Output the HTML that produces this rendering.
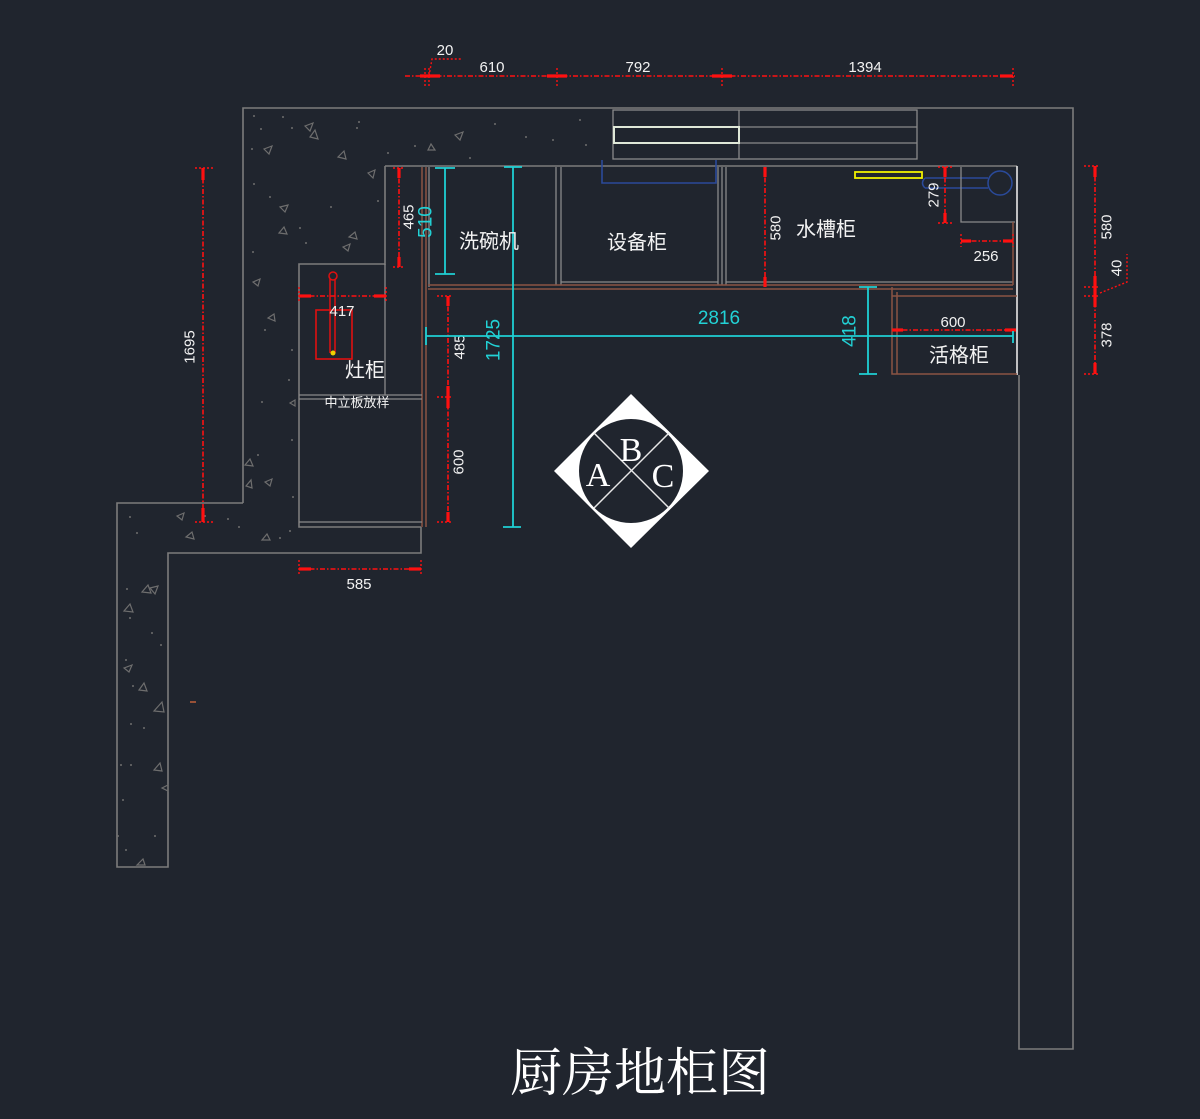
<!DOCTYPE html>
<html><head><meta charset="utf-8"><style>
html,body{margin:0;padding:0;background:#20252e;}
svg{display:block;}
.w{stroke:#7c7c7c;stroke-width:1.6;fill:none;}
.g{stroke:#8a8a8a;stroke-width:1.3;fill:none;}
.br{stroke:#8a5444;stroke-width:1.5;fill:none;}
.r{stroke:#ff1010;stroke-width:1.6;fill:none;stroke-dasharray:5 2 1.5 2;}
.rt{stroke:#ff1010;stroke-width:3.2;fill:none;}
.rk{stroke:#ff1010;stroke-width:1.4;fill:none;stroke-dasharray:2 2;}
.c{stroke:#1fd0d4;stroke-width:1.8;fill:none;}
.t{fill:#f2f2f2;font-family:"Liberation Sans","Noto Sans CJK SC",sans-serif;font-size:15px;}
.tc{fill:#22d2d6;font-family:"Liberation Sans",sans-serif;font-size:19px;}
.cn{fill:#f4f4f4;font-family:"Liberation Sans","Noto Sans CJK SC",sans-serif;font-size:20px;}
.h{stroke:#6e6e6e;stroke-width:1.2;fill:none;}
.d{fill:#6e6e6e;}
</style></head><body>
<svg width="1200" height="1119" viewBox="0 0 1200 1119" xmlns="http://www.w3.org/2000/svg">
<rect width="1200" height="1119" fill="#20252e"/>

<!-- walls -->
<polyline class="w" points="243,503 243,108 1073,108 1073,1049 1019,1049 1019,375"/>
<polyline class="w" points="243,503 117,503 117,867 168,867 168,553 421,553 421,527"/>
<polyline class="w" points="385,166 385,264 299,264 299,527 421,527"/>
<line class="w" x1="385" y1="166" x2="1017" y2="166"/>

<!-- hatch triangles -->
<g class="h">
<path d="M305,126 l8,-3 -3,8z"/><path d="M310,137 l5,-7 3,9z"/><path d="M264,149 l8,-3 -3,8z"/>
<path d="M338,157 l6,-6 2,8z"/><path d="M368,173 l7,-3 -2,8z"/><path d="M280,207 l8,-2 -3,7z"/>
<path d="M279,233 l5,-6 3,7z"/><path d="M349,237 l6,-5 2,7z"/><path d="M343,247 l7,-3 -2,7z"/>
<path d="M455,135 l8,-3 -3,8z"/><path d="M428,150 l3,-6 4,6z"/><path d="M253,282 l7,-3 -2,7z"/>
<path d="M268,318 l6,-4 1,7z"/><path d="M290,403 l5,-3 0,6z"/><path d="M245,465 l5,-6 3,7z"/>
<path d="M246,486 l5,-6 1,8z"/><path d="M265,482 l7,-3 -2,7z"/><path d="M177,516 l7,-3 -2,7z"/>
<path d="M186,537 l6,-5 2,7z"/><path d="M262,540 l5,-6 3,6z"/>
<path d="M142,592 l6,-7 3,8z"/><path d="M150,588 l8,-2 -3,8z"/><path d="M124,611 l6,-7 3,8z"/>
<path d="M124,668 l8,-3 -3,7z"/><path d="M139,690 l5,-7 3,8z"/><path d="M154,711 l8,-9 2,10z"/>
<path d="M154,770 l6,-7 2,8z"/><path d="M162,788 l6,-3 0,6z"/><path d="M137,865 l6,-6 2,6z"/>
</g>
<g class="d">
<circle cx="254" cy="116" r="1"/><circle cx="261" cy="129" r="1"/><circle cx="283" cy="117" r="1"/>
<circle cx="252" cy="149" r="1"/><circle cx="254" cy="184" r="1"/><circle cx="270" cy="197" r="1"/>
<circle cx="292" cy="128" r="1"/><circle cx="357" cy="128" r="1"/><circle cx="388" cy="153" r="1"/>
<circle cx="415" cy="146" r="1"/><circle cx="495" cy="124" r="1"/><circle cx="470" cy="158" r="1"/>
<circle cx="378" cy="201" r="1"/><circle cx="253" cy="252" r="1"/><circle cx="300" cy="228" r="1"/>
<circle cx="306" cy="243" r="1"/><circle cx="331" cy="207" r="1"/><circle cx="359" cy="122" r="1"/>
<circle cx="526" cy="137" r="1"/><circle cx="580" cy="120" r="1"/><circle cx="586" cy="145" r="1"/>
<circle cx="553" cy="140" r="1"/><circle cx="265" cy="330" r="1"/><circle cx="292" cy="350" r="1"/>
<circle cx="289" cy="380" r="1"/><circle cx="262" cy="402" r="1"/><circle cx="292" cy="440" r="1"/>
<circle cx="258" cy="455" r="1"/><circle cx="293" cy="497" r="1"/><circle cx="130" cy="517" r="1"/>
<circle cx="137" cy="533" r="1"/><circle cx="205" cy="516" r="1"/><circle cx="228" cy="519" r="1"/>
<circle cx="239" cy="527" r="1"/><circle cx="280" cy="538" r="1"/><circle cx="290" cy="531" r="1"/>
<circle cx="127" cy="589" r="1"/><circle cx="130" cy="618" r="1"/><circle cx="152" cy="633" r="1"/>
<circle cx="161" cy="645" r="1"/><circle cx="126" cy="660" r="1"/><circle cx="133" cy="686" r="1"/>
<circle cx="131" cy="724" r="1"/><circle cx="144" cy="728" r="1"/><circle cx="121" cy="765" r="1"/>
<circle cx="131" cy="765" r="1"/><circle cx="123" cy="800" r="1"/><circle cx="155" cy="836" r="1"/>
<circle cx="118" cy="836" r="1"/><circle cx="126" cy="850" r="1"/>
</g>
<line x1="190" y1="702" x2="196" y2="702" stroke="#c0603a" stroke-width="1.5"/>

<!-- upper strip -->
<rect class="g" x="613" y="110" width="304" height="49"/>
<line class="g" x1="613" y1="127" x2="917" y2="127"/>
<line class="g" x1="613" y1="143" x2="917" y2="143"/>
<line class="g" x1="739" y1="110" x2="739" y2="159"/>
<rect x="614" y="127" width="125" height="16" fill="none" stroke="#dfe8d8" stroke-width="2"/>

<!-- cabinets -->
<line class="br" x1="422" y1="167" x2="422" y2="527"/>
<line class="br" x1="426" y1="167" x2="426" y2="527"/>
<line class="g" x1="429" y1="167" x2="429" y2="287"/>
<line class="g" x1="556" y1="167" x2="556" y2="285"/>
<line class="g" x1="561" y1="167" x2="561" y2="285"/>
<line class="g" x1="718" y1="167" x2="718" y2="285"/>
<line class="g" x1="722" y1="167" x2="722" y2="285"/>
<line class="g" x1="726" y1="167" x2="726" y2="285"/>
<line class="br" x1="428" y1="285" x2="1013" y2="285"/>
<line class="br" x1="428" y1="289" x2="1013" y2="289"/>
<line class="g" x1="561" y1="282" x2="718" y2="282"/>
<line class="g" x1="726" y1="282" x2="1013" y2="282"/>
<!-- left stove cabinet -->
<line class="g" x1="299" y1="395" x2="422" y2="395"/>
<line class="g" x1="299" y1="399" x2="422" y2="399"/>
<line class="g" x1="385" y1="264" x2="385" y2="395"/>
<line class="g" x1="299" y1="522" x2="422" y2="522"/>
<!-- blue bracket -->
<polyline points="602,160 602,183 716,183 716,160" fill="none" stroke="#2a4a9a" stroke-width="1.6"/>
<!-- sink -->
<rect x="855" y="172" width="67" height="6" fill="none" stroke="#f0f000" stroke-width="1.8"/>
<path d="M925,178 L988,178 M925,188 L988,188 M925,178 q-5,5 0,10" fill="none" stroke="#2a4a9a" stroke-width="1.5"/>
<circle cx="1000" cy="183" r="12" fill="none" stroke="#2a4a9a" stroke-width="1.5"/>
<polyline class="g" points="961,167 961,222 1015,222"/>
<line class="br" x1="1013" y1="222" x2="1013" y2="285"/>
<line x1="1017" y1="166" x2="1017" y2="375" stroke="#e8e8e8" stroke-width="1.6"/>
<!-- 活格柜 -->
<polyline class="br" points="892,287 892,374 1017,374"/>
<line class="br" x1="897" y1="292" x2="897" y2="374"/>
<line class="br" x1="892" y1="296" x2="1017" y2="296"/>
<!-- stove -->
<rect x="316" y="310" width="36" height="49" fill="none" stroke="#e01010" stroke-width="1.6"/>
<line x1="330" y1="279" x2="330" y2="353" stroke="#e01010" stroke-width="1.5"/>
<line x1="335" y1="279" x2="335" y2="353" stroke="#e01010" stroke-width="1.5"/>
<circle cx="333" cy="276" r="4" fill="none" stroke="#e01010" stroke-width="1.5"/>
<circle cx="333" cy="353" r="2.5" fill="#f0d000"/>

<!-- red dims: top -->
<line class="r" x1="405" y1="76" x2="1015" y2="76"/>
<g class="rt"><line x1="420" y1="76" x2="440" y2="76"/><line x1="547" y1="76" x2="567" y2="76"/><line x1="712" y1="76" x2="732" y2="76"/><line x1="1000" y1="76" x2="1013" y2="76"/></g>
<g class="rk"><line x1="425" y1="68" x2="425" y2="88"/><line x1="429" y1="68" x2="429" y2="88"/><line x1="557" y1="68" x2="557" y2="88"/><line x1="722" y1="68" x2="722" y2="88"/><line x1="1013" y1="68" x2="1013" y2="88"/></g>
<polyline class="rk" points="429,76 432,59 462,59"/>
<text class="t" x="445" y="55" text-anchor="middle">20</text>
<text class="t" x="492" y="72" text-anchor="middle">610</text>
<text class="t" x="638" y="72" text-anchor="middle">792</text>
<text class="t" x="865" y="72" text-anchor="middle">1394</text>

<!-- 1695 -->
<line class="r" x1="203" y1="168" x2="203" y2="522"/>
<g class="rt"><line x1="203" y1="168" x2="203" y2="180"/><line x1="203" y1="508" x2="203" y2="522"/></g>
<g class="rk"><line x1="195" y1="168" x2="213" y2="168"/><line x1="195" y1="522" x2="213" y2="522"/></g>
<text class="t" transform="translate(190,347) rotate(-90)" text-anchor="middle" dominant-baseline="central">1695</text>

<!-- 465 -->
<line class="r" x1="399" y1="168" x2="399" y2="267"/>
<g class="rt"><line x1="399" y1="168" x2="399" y2="178"/><line x1="399" y1="257" x2="399" y2="267"/></g>
<g class="rk"><line x1="393" y1="168" x2="405" y2="168"/><line x1="393" y1="267" x2="405" y2="267"/></g>
<text class="t" transform="translate(409,217) rotate(-90)" text-anchor="middle" dominant-baseline="central">465</text>

<!-- 417 -->
<line class="r" x1="299" y1="296" x2="386" y2="296"/>
<g class="rt"><line x1="299" y1="296" x2="311" y2="296"/><line x1="374" y1="296" x2="386" y2="296"/></g>
<g class="rk"><line x1="299" y1="287" x2="299" y2="302"/><line x1="386" y1="287" x2="386" y2="302"/></g>
<text class="t" x="342" y="316" text-anchor="middle">417</text>

<!-- 585 -->
<line class="r" x1="299" y1="569" x2="421" y2="569"/>
<g class="rt"><line x1="299" y1="569" x2="311" y2="569"/><line x1="409" y1="569" x2="421" y2="569"/></g>
<g class="rk"><line x1="299" y1="560" x2="299" y2="574"/><line x1="421" y1="560" x2="421" y2="574"/></g>
<text class="t" x="359" y="589" text-anchor="middle">585</text>

<!-- 485 / 600 -->
<line class="r" x1="448" y1="296" x2="448" y2="522"/>
<g class="rt"><line x1="448" y1="296" x2="448" y2="306"/><line x1="448" y1="386" x2="448" y2="408"/><line x1="448" y1="512" x2="448" y2="522"/></g>
<g class="rk"><line x1="437" y1="296" x2="452" y2="296"/><line x1="437" y1="397" x2="452" y2="397"/><line x1="437" y1="522" x2="452" y2="522"/></g>
<text class="t" transform="translate(460,347) rotate(-90)" text-anchor="middle" dominant-baseline="central">485</text>
<text class="t" transform="translate(459,462) rotate(-90)" text-anchor="middle" dominant-baseline="central">600</text>

<!-- 580 sink -->
<line class="r" x1="765" y1="167" x2="765" y2="287"/>
<g class="rt"><line x1="765" y1="167" x2="765" y2="177"/><line x1="765" y1="277" x2="765" y2="287"/></g>
<text class="t" transform="translate(776,228) rotate(-90)" text-anchor="middle" dominant-baseline="central">580</text>

<!-- 279 -->
<line class="r" x1="945" y1="167" x2="945" y2="223"/>
<g class="rt"><line x1="945" y1="167" x2="945" y2="177"/><line x1="945" y1="213" x2="945" y2="223"/></g>
<g class="rk"><line x1="938" y1="167" x2="952" y2="167"/><line x1="938" y1="223" x2="952" y2="223"/></g>
<text class="t" transform="translate(934,195) rotate(-90)" text-anchor="middle" dominant-baseline="central">279</text>

<!-- 256 -->
<line class="r" x1="961" y1="241" x2="1013" y2="241"/>
<g class="rt"><line x1="961" y1="241" x2="971" y2="241"/><line x1="1003" y1="241" x2="1013" y2="241"/></g>
<g class="rk"><line x1="961" y1="234" x2="961" y2="247"/><line x1="1013" y1="234" x2="1013" y2="247"/></g>
<text class="t" x="986" y="261" text-anchor="middle">256</text>

<!-- 600 活格 -->
<line class="r" x1="892" y1="330" x2="1016" y2="330"/>
<g class="rt"><line x1="892" y1="330" x2="903" y2="330"/><line x1="1005" y1="330" x2="1016" y2="330"/></g>
<text class="t" x="953" y="327" text-anchor="middle">600</text>

<!-- right 580/40/378 -->
<line class="r" x1="1095" y1="166" x2="1095" y2="374"/>
<g class="rt"><line x1="1095" y1="166" x2="1095" y2="177"/><line x1="1095" y1="276" x2="1095" y2="307"/><line x1="1095" y1="363" x2="1095" y2="374"/></g>
<g class="rk"><line x1="1084" y1="166" x2="1099" y2="166"/><line x1="1084" y1="287" x2="1099" y2="287"/><line x1="1084" y1="296" x2="1099" y2="296"/><line x1="1084" y1="374" x2="1099" y2="374"/></g>
<polyline class="rk" points="1100,293 1127,282 1127,254"/>
<text class="t" transform="translate(1107,227) rotate(-90)" text-anchor="middle" dominant-baseline="central">580</text>
<text class="t" transform="translate(1117,268) rotate(-90)" text-anchor="middle" dominant-baseline="central">40</text>
<text class="t" transform="translate(1107,335) rotate(-90)" text-anchor="middle" dominant-baseline="central">378</text>

<!-- cyan dims -->
<g class="c">
<line x1="445" y1="168" x2="445" y2="274"/><line x1="435" y1="168" x2="455" y2="168"/><line x1="435" y1="274" x2="455" y2="274"/>
<line x1="513" y1="167" x2="513" y2="527"/><line x1="504" y1="167" x2="522" y2="167"/><line x1="503" y1="527" x2="521" y2="527"/>
<line x1="426" y1="336" x2="1013" y2="336"/><line x1="426" y1="327" x2="426" y2="345"/><line x1="1013" y1="331" x2="1013" y2="343"/>
<line x1="868" y1="287" x2="868" y2="374"/><line x1="859" y1="287" x2="877" y2="287"/><line x1="859" y1="374" x2="877" y2="374"/>
</g>
<text class="tc" transform="translate(426,222) rotate(-90)" text-anchor="middle" dominant-baseline="central">510</text>
<text class="tc" transform="translate(494,340) rotate(-90)" text-anchor="middle" dominant-baseline="central">1725</text>
<text class="tc" x="719" y="324" text-anchor="middle">2816</text>
<text class="tc" transform="translate(850,331) rotate(-90)" text-anchor="middle" dominant-baseline="central">418</text>

<!-- labels -->
<text class="cn" x="489" y="248" text-anchor="middle">洗碗机</text>
<text class="cn" x="637" y="249" text-anchor="middle">设备柜</text>
<text class="cn" x="826" y="236" text-anchor="middle">水槽柜</text>
<text class="cn" x="959" y="362" text-anchor="middle">活格柜</text>
<text class="cn" x="365" y="377" text-anchor="middle">灶柜</text>
<text class="t" x="357" y="407" text-anchor="middle" style="font-size:13px">中立板放样</text>

<!-- ABC symbol -->
<polygon points="631,394 709,471 631,548 554,471" fill="#ffffff"/>
<circle cx="631" cy="471" r="52" fill="#20252e"/>
<line x1="594" y1="433" x2="669" y2="508" stroke="#e8e8e8" stroke-width="1.5"/>
<line x1="669" y1="433" x2="594" y2="508" stroke="#e8e8e8" stroke-width="1.5"/>
<g fill="#ffffff" font-family="'Liberation Serif',serif" font-size="34" text-anchor="middle">
<text x="598" y="486">A</text><text x="631" y="461">B</text><text x="663" y="487">C</text>
</g>

<!-- title -->
<text x="640" y="1091" text-anchor="middle" fill="#ffffff" font-family="'Liberation Serif','Noto Serif CJK SC',serif" font-size="52">厨房地柜图</text>
</svg>
</body></html>
